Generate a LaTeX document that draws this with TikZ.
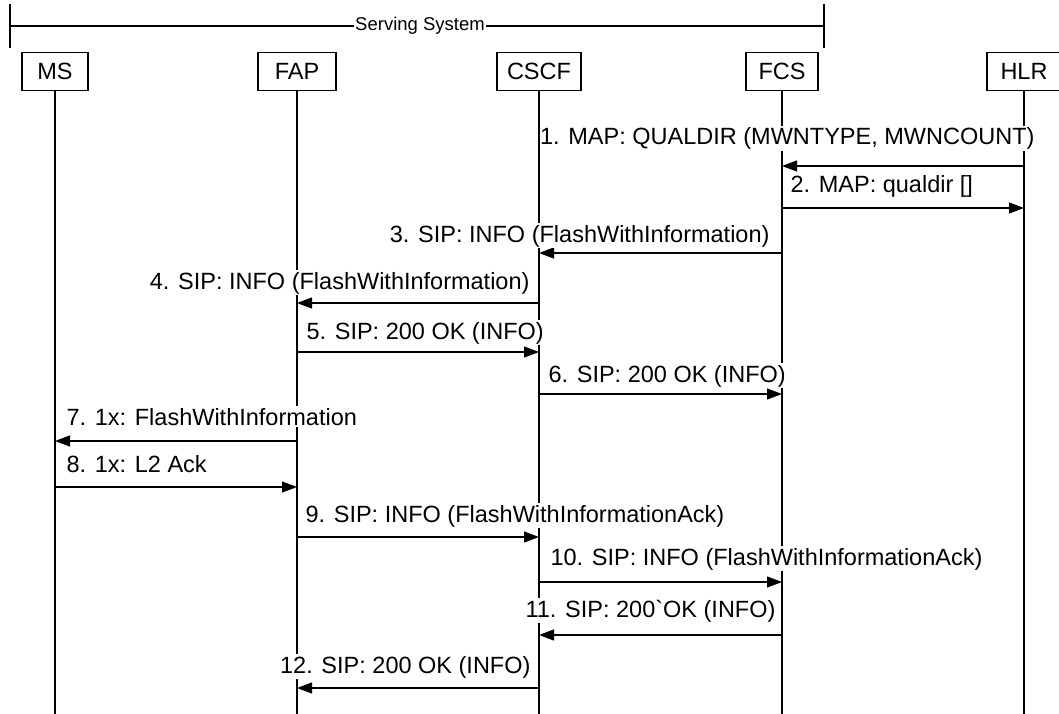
\documentclass[tikz,border=0pt]{standalone}
\usepackage{fontspec}
\setmainfont{Liberation Sans}
\usetikzlibrary{arrows.meta, positioning}

\begin{document}
\begin{tikzpicture}[x=1pt, y=-1pt, line width=1.1pt,
        font=\fontsize{23.5}{28}\selectfont,
        >={Triangle[length=15pt,width=11pt]},
        entity/.style={draw, minimum height=38pt, inner sep=0pt, anchor=north},
        msg/.style={fill=white, inner xsep=0pt, inner ysep=1.5pt}]
    \useasboundingbox (0,0) rectangle (1059,714);
    % serving system
    \node[inner xsep=1pt, inner ysep=0pt, font=\fontsize{18.5}{22}\selectfont] (sys) at (420,26) {Serving System};
    \coordinate (sysl) at (10,26);
    \coordinate (sysr) at (824,26);
    \draw (sysl) -- (sys.west);
    \draw (sys.east) -- (sysr);
    \draw (10,4) -- (10,48);
    \draw (824,4) -- (824,48);
    % entities
    \node[entity, minimum width=66pt] (ms) at (55,52) {MS};
    \node[entity, minimum width=78pt] (fap) at (297,52) {FAP};
    \node[entity, minimum width=84pt] (cscf) at (539,52) {CSCF};
    \node[entity, minimum width=72pt] (fcs) at (782,52) {FCS};
    \node[entity, minimum width=74pt] (hlr) at (1024,52) {HLR};
    \foreach \n in {ms, fap, cscf, fcs, hlr}
        \draw (\n.south) -- (\n.south |- 0,714);
    % message rows
    \foreach \i/\y in {1/166, 2/208, 3/253, 4/303, 5/352, 6/394,
                       7/441, 8/487, 9/537, 10/582, 11/635, 12/688}
        \coordinate (m\i) at (0,\y);
    \draw[->] (hlr |- m1) -- (fcs |- m1);
    \draw[->] (fcs |- m2) -- (hlr |- m2);
    \draw[->] (fcs |- m3) -- (cscf |- m3);
    \draw[->] (cscf |- m4) -- (fap |- m4);
    \draw[->] (fap |- m5) -- (cscf |- m5);
    \draw[->] (cscf |- m6) -- (fcs |- m6);
    \draw[->] (fap |- m7) -- (ms |- m7);
    \draw[->] (ms |- m8) -- (fap |- m8);
    \draw[->] (fap |- m9) -- (cscf |- m9);
    \draw[->] (cscf |- m10) -- (fcs |- m10);
    \draw[->] (fcs |- m11) -- (cscf |- m11);
    \draw[->] (cscf |- m12) -- (fap |- m12);
    % labels
    \node[msg, anchor=base east] (l1) at (1035,145) {1. MAP: QUALDIR (MWNTYPE, MWNCOUNT)};
    \node[msg, anchor=base west] (l2) at (790,193) {2. MAP: qualdir []};
    \node[msg, anchor=base east] (l3) at (770,242) {3. SIP: INFO (FlashWithInformation)};
    \node[msg, anchor=base east] (l4) at (530,289) {4. SIP: INFO (FlashWithInformation)};
    \node[msg, anchor=base west] (l5) at (306,339) {5. SIP: 200 OK (INFO)};
    \node[msg, anchor=base west] (l6) at (548,382) {6. SIP: 200 OK (INFO)};
    \node[msg, anchor=base west] (l7) at (66,425) {7. 1x: FlashWithInformation};
    \node[msg, anchor=base west] (l8) at (66,472) {8. 1x: L2 Ack};
    \node[msg, anchor=base west] (l9) at (305,522) {9. SIP: INFO (FlashWithInformationAck)};
    \node[msg, anchor=base west] (l10) at (550,565) {10. SIP: INFO (FlashWithInformationAck)};
    \node[msg, anchor=base east] (l11) at (776,617) {11. SIP: 200\textasciigrave OK (INFO)};
    \node[msg, anchor=base east] (l12) at (531,673) {12. SIP: 200 OK (INFO)};
\end{tikzpicture}
\end{document}
